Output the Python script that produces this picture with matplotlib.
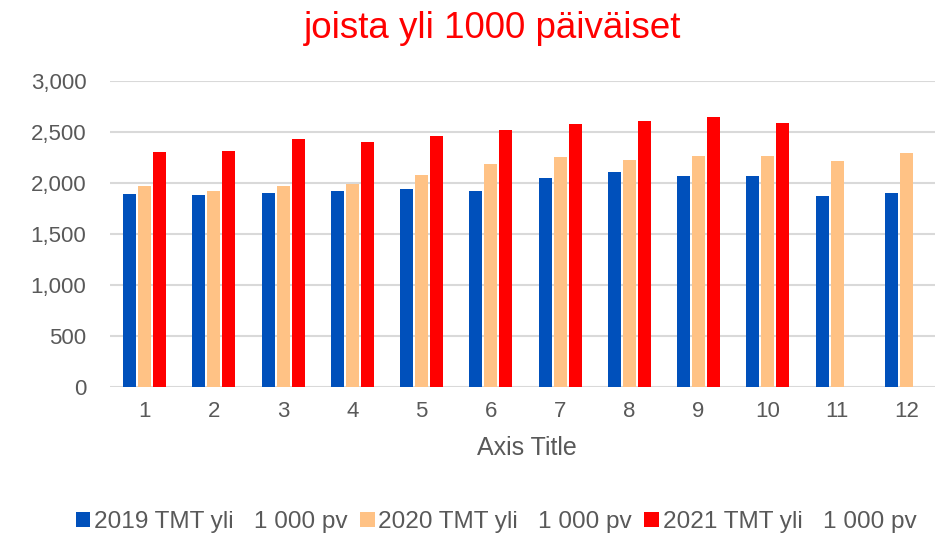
import numpy as np
import matplotlib.pyplot as plt

# monthly values
months = [str(m) for m in range(1, 13)]
tmt_2019 = [1890, 1880, 1900, 1920, 1940, 1920, 2050, 2110, 2070, 2070, 1875, 1900]
tmt_2020 = [1970, 1920, 1970, 1990, 2080, 2190, 2255, 2225, 2265, 2265, 2215, 2295]
tmt_2021 = [2300, 2310, 2430, 2400, 2460, 2520, 2580, 2610, 2650, 2590, np.nan, np.nan]

series_labels = ["2019 TMT yli   1 000 pv", "2020 TMT yli   1 000 pv", "2021 TMT yli   1 000 pv"]
colors = ["#0050BB", "#FFC285", "#FF0000"]
grey = "#595959"

plt.rcParams['font.family'] = ['Liberation Sans', 'DejaVu Sans']

fig = plt.figure(figsize=(9.35, 5.35), dpi=100)
ax = fig.add_axes([110 / 935, 148 / 535, 831 / 935, 306 / 535])

x = np.arange(1, 13)
pitch = 0.217
width = 0.188
for i, (vals, lab, col) in enumerate(zip([tmt_2019, tmt_2020, tmt_2021], series_labels, colors)):
    ax.bar(x + (i - 1) * pitch, vals, width=width, color=col, label=lab, zorder=3)

ax.set_xlim(0.5, 12.5)
ax.set_ylim(0, 3000)
ax.set_yticks(np.arange(0, 3001, 500))
ax.yaxis.set_major_formatter(plt.FuncFormatter(lambda v, p: f"{int(v):,}"))
ax.set_xticks(x)
ax.set_xticklabels(months)
ax.grid(axis='y', color='#D9D9D9', linewidth=1.5, zorder=0)
for s in ['top', 'right', 'left', 'bottom']:
    ax.spines[s].set_visible(False)
ax.tick_params(axis='both', length=0, labelsize=16, labelcolor=grey)
ax.tick_params(axis='y', pad=17)
ax.tick_params(axis='x', pad=10)

fig.text(493 / 935, 1 - 28 / 535, "joista yli 1000 päiväiset", color="#FF0000",
         fontsize=26.5, ha='center', va='center')
fig.text(527 / 935, 1 - 448 / 535, "Axis Title", color=grey, fontsize=18,
         ha='center', va='center')

leg = fig.legend(loc='center', bbox_to_anchor=(496 / 935, 1 - 522 / 535), ncol=3,
                 frameon=False, fontsize=17.6, handlelength=0.6, handleheight=0.6,
                 handletextpad=0.15, columnspacing=0.5, borderpad=0)
for t in leg.get_texts():
    t.set_color(grey)

fig.savefig("out.png", dpi=100)
